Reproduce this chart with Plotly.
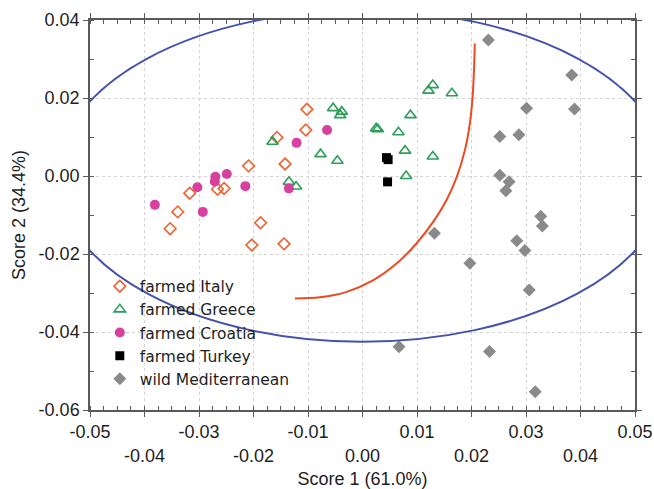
import plotly.graph_objects as go

# ---- data ----
italy_x = [-0.0102, -0.0104, -0.0157, -0.0142, -0.0209, -0.0317, -0.0266, -0.0254,
           -0.0339, -0.0353, -0.0187, -0.0203, -0.0144]
italy_y = [0.0171, 0.0118, 0.0099, 0.0031, 0.0026, -0.0044, -0.0034, -0.0032,
           -0.0092, -0.0135, -0.0120, -0.0177, -0.0174]

greece_x = [-0.0165, -0.0054, -0.0038, -0.0041, -0.0077, -0.0046, -0.0135, -0.0122,
            0.0025, 0.0028, 0.0066, 0.0088, 0.0078, 0.0129, 0.0080, 0.0121, 0.0129, 0.0164]
greece_y = [0.0088, 0.0174, 0.0165, 0.0156, 0.0056, 0.0039, -0.0015, -0.0027,
            0.0122, 0.0120, 0.0112, 0.0156, 0.0065, 0.0050, 0.0000, 0.0219, 0.0233, 0.0212]

croatia_x = [-0.0065, -0.0121, -0.0249, -0.0270, -0.0271, -0.0303, -0.0215, -0.0135,
             -0.0381, -0.0293]
croatia_y = [0.0118, 0.0085, 0.0005, -0.0002, -0.0014, -0.0029, -0.0026, -0.0032,
             -0.0074, -0.0092]

turkey_x = [0.0044, 0.0047, 0.0046]
turkey_y = [0.0047, 0.0042, -0.0015]

wild_x = [0.0231, 0.0384, 0.0301, 0.0389, 0.0252, 0.0287, 0.0252, 0.0269, 0.0263,
          0.0327, 0.0330, 0.0132, 0.0283, 0.0298, 0.0197, 0.0306, 0.0067, 0.0233, 0.0317]
wild_y = [0.0349, 0.0259, 0.0174, 0.0172, 0.0101, 0.0106, 0.0002, -0.0015, -0.0038,
          -0.0103, -0.0128, -0.0147, -0.0166, -0.0191, -0.0224, -0.0292, -0.0438, -0.0450,
          -0.0553]

# red class boundary curve
boundary_x = [0.0206, 0.0205, 0.0202, 0.0197, 0.0188, 0.0173, 0.0154, 0.0130, 0.0099,
              0.0063, 0.0020, -0.0029, -0.0078, -0.0124]
boundary_y = [0.0340, 0.0289, 0.0203, 0.0135, 0.0067, -0.0002, -0.0062, -0.0117, -0.0173,
              -0.0224, -0.0267, -0.0297, -0.0311, -0.0314]

# confidence ellipse bounds (semi-axes)
ellipse_x = [-0.056, 0.056]
ellipse_y = [-0.0425, 0.0425]

x_ticks = [-0.05, -0.04, -0.03, -0.02, -0.01, 0.00, 0.01, 0.02, 0.03, 0.04, 0.05]
x_labels = ["-0.05", "-0.04", "-0.03", "-0.02", "-0.01", "0.00", "0.01", "0.02", "0.03", "0.04", "0.05"]
y_ticks = [-0.06, -0.04, -0.02, 0.00, 0.02, 0.04]
y_labels = ["-0.06", "-0.04", "-0.02", "0.00", "0.02", "0.04"]

FONT = "Liberation Sans, Arial, sans-serif"
LEGFONT = "DejaVu Sans, Liberation Sans, sans-serif"
TXT = "#1e1e1e"
AX = "#5a5a5a"

fig = go.Figure()

fig.add_trace(go.Scatter(x=boundary_x, y=boundary_y, mode="lines",
                         line=dict(color="#ee4a22", width=2, shape="spline"),
                         showlegend=False, hoverinfo="skip"))

fig.add_trace(go.Scatter(x=italy_x, y=italy_y, mode="markers", name="farmed Italy",
                         marker=dict(symbol="diamond-open", size=9, color="#f0602e",
                                     line=dict(width=1.6, color="#f0602e"))))
fig.add_trace(go.Scatter(x=greece_x, y=greece_y, mode="markers", name="farmed Greece",
                         marker=dict(symbol="triangle-up-open", size=10, color="#2e9e5a",
                                     line=dict(width=1.6, color="#2e9e5a"))))
fig.add_trace(go.Scatter(x=croatia_x, y=croatia_y, mode="markers", name="farmed Croatia",
                         marker=dict(symbol="circle", size=10, color="#d8409e")))
fig.add_trace(go.Scatter(x=turkey_x, y=turkey_y, mode="markers", name="farmed Turkey",
                         marker=dict(symbol="square", size=9, color="#000000")))
fig.add_trace(go.Scatter(x=wild_x, y=wild_y, mode="markers", name="wild Mediterranean",
                         marker=dict(symbol="diamond", size=10, color="#8a8a8a")))

fig.add_shape(type="circle", xref="x", yref="y",
              x0=ellipse_x[0], x1=ellipse_x[1], y0=ellipse_y[0], y1=ellipse_y[1],
              line=dict(color="#4452ac", width=2), layer="above")

ticklabel_x = [lab if i % 2 == 0 else "<br>" + lab for i, lab in enumerate(x_labels)]

fig.update_xaxes(range=[-0.05, 0.05], tickvals=x_ticks, ticktext=ticklabel_x,
                 automargin=False,
                 showgrid=True, gridcolor="#d4d4d4", griddash="dot", gridwidth=1,
                 showline=True, linecolor=AX, linewidth=1.5, mirror="allticks",
                 ticks="outside", ticklen=5, tickcolor=AX, ticklabelstandoff=0,
                 minor=dict(dtick=0.0025, ticks="inside", ticklen=4, tickcolor=AX, showgrid=False),
                 zeroline=False,
                 tickfont=dict(family=FONT, size=18, color=TXT),
                 title=dict(text="Score 1 (61.0%)", font=dict(family=FONT, size=18, color=TXT),
                            standoff=14))
fig.update_yaxes(range=[-0.06, 0.04], tickvals=y_ticks, ticktext=y_labels,
                 automargin=False,
                 showgrid=True, gridcolor="#d4d4d4", griddash="dot", gridwidth=1,
                 showline=True, linecolor=AX, linewidth=1.5, mirror="allticks",
                 ticks="outside", ticklen=5, tickcolor=AX,
                 minor=dict(dtick=0.01, ticks="inside", ticklen=4, tickcolor=AX, showgrid=False),
                 zeroline=False,
                 tickfont=dict(family=FONT, size=18, color=TXT),
                 title=dict(text="Score 2 (34.4%)", font=dict(family=FONT, size=18, color=TXT),
                            standoff=8))

fig.update_layout(
    width=654, height=489,
    margin=dict(l=90, r=19, t=20, b=79),
    paper_bgcolor="white", plot_bgcolor="white",
    font=dict(family=FONT, size=18, color=TXT),
    legend=dict(x=0.018, y=0.36, xanchor="left", yanchor="top",
                bgcolor="rgba(0,0,0,0)", borderwidth=0,
                font=dict(family=LEGFONT, size=15.5, color=TXT),
                tracegroupgap=0),
)

fig.write_html("out.html")
